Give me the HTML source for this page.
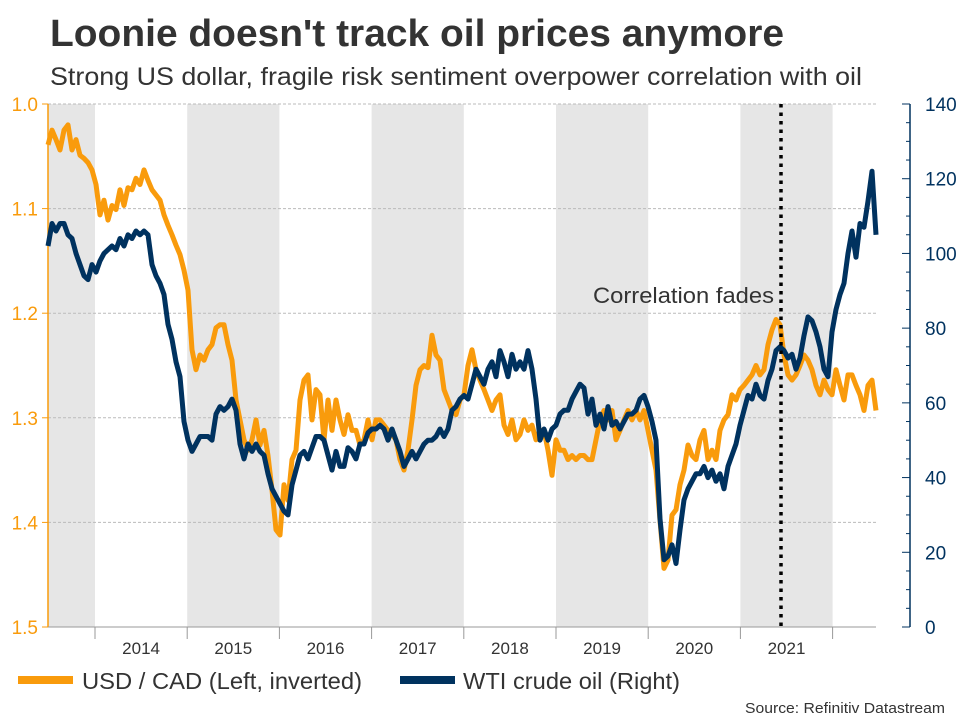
<!DOCTYPE html>
<html><head><meta charset="utf-8">
<style>
body{margin:0;background:#fff;font-family:"Liberation Sans",sans-serif;}
#wrap{position:relative;width:960px;height:720px;overflow:hidden;}
</style></head>
<body>
<div id="wrap">
<svg id="chart" width="960" height="720" xmlns="http://www.w3.org/2000/svg">
<text x="50" y="46" font-size="38" font-weight="bold" fill="#333" textLength="734" lengthAdjust="spacingAndGlyphs" font-family="Liberation Sans, sans-serif">Loonie doesn't track oil prices anymore</text>
<text x="50" y="85" font-size="25" fill="#333" textLength="812" lengthAdjust="spacingAndGlyphs" font-family="Liberation Sans, sans-serif">Strong US dollar, fragile risk sentiment overpower correlation with oil</text>
<g id="bands"></g><g id="grid"></g><g id="axes"></g><g id="series"></g>
<line x1="781" y1="104" x2="781" y2="627" stroke="#000" stroke-width="3.5" stroke-dasharray="3.5,5"/>
<text x="774" y="303" font-size="22" fill="#333" text-anchor="end" textLength="181" lengthAdjust="spacingAndGlyphs" font-family="Liberation Sans, sans-serif">Correlation fades</text>
<rect x="18" y="676" width="55" height="8" fill="#f99b0c"/>
<text x="82" y="689" font-size="23" fill="#333" textLength="280" lengthAdjust="spacingAndGlyphs" font-family="Liberation Sans, sans-serif">USD / CAD (Left, inverted)</text>
<rect x="400" y="676" width="55" height="8" fill="#00325f"/>
<text x="463" y="689" font-size="23" fill="#333" textLength="217" lengthAdjust="spacingAndGlyphs" font-family="Liberation Sans, sans-serif">WTI crude oil (Right)</text>
<text x="945" y="713" font-size="15" fill="#333" text-anchor="end" textLength="200" lengthAdjust="spacingAndGlyphs" font-family="Liberation Sans, sans-serif">Source: Refinitiv Datastream</text>
</svg>
</div>
<script>
const yearLabels=["2014","2015","2016","2017","2018","2019","2020","2021"];
const shadedYears=[2013,2015,2017,2019,2021];
const leftTicks=[1.0,1.1,1.2,1.3,1.4,1.5];
const rightTicks=[0,20,40,60,80,100,120,140];
const startDate=2013.49;
const usdcad=[1.039,1.025,1.034,1.044,1.025,1.020,1.044,1.034,1.049,1.052,1.056,1.063,1.077,1.106,1.092,1.111,1.097,1.101,1.082,1.097,1.080,1.082,1.071,1.077,1.063,1.073,1.082,1.087,1.092,1.106,1.116,1.125,1.135,1.144,1.159,1.178,1.235,1.254,1.240,1.245,1.235,1.230,1.214,1.211,1.211,1.230,1.245,1.283,1.302,1.321,1.331,1.321,1.302,1.326,1.312,1.336,1.369,1.407,1.412,1.364,1.379,1.340,1.331,1.283,1.264,1.259,1.302,1.273,1.278,1.321,1.283,1.312,1.283,1.302,1.316,1.297,1.312,1.312,1.326,1.321,1.302,1.321,1.302,1.302,1.307,1.312,1.316,1.321,1.340,1.350,1.331,1.302,1.269,1.254,1.250,1.252,1.221,1.240,1.245,1.273,1.283,1.293,1.297,1.283,1.278,1.250,1.235,1.254,1.264,1.273,1.283,1.293,1.283,1.278,1.307,1.316,1.302,1.321,1.316,1.302,1.312,1.307,1.321,1.312,1.312,1.331,1.355,1.321,1.331,1.331,1.340,1.336,1.340,1.336,1.336,1.340,1.340,1.321,1.302,1.293,1.302,1.293,1.321,1.312,1.302,1.293,1.302,1.293,1.302,1.293,1.312,1.331,1.350,1.398,1.444,1.436,1.393,1.388,1.364,1.350,1.326,1.336,1.340,1.321,1.312,1.340,1.331,1.340,1.312,1.302,1.297,1.278,1.283,1.273,1.269,1.264,1.259,1.250,1.259,1.254,1.230,1.216,1.206,1.211,1.240,1.259,1.264,1.259,1.250,1.240,1.245,1.254,1.269,1.278,1.264,1.273,1.278,1.254,1.269,1.283,1.259,1.259,1.269,1.278,1.293,1.269,1.264,1.293];
const wti=[102,108,106,108,108,105,104,100,97,94,93,97,95,98,100,101,102,101,104,102,105,104,106,105,106,105,97,94,92,89,81,77,71,67,55,50,47,49,51,51,51,50,57,59,58,59,61,58,49,45,49,47,49,47,46,41,37,35,33,31,30,38,42,46,47,45,48,51,51,50,46,42,47,43,43,48,47,45,49,49,52,53,53,54,53,50,53,50,47,43,45,47,45,47,49,50,50,51,53,51,53,58,59,61,62,61,65,69,67,65,69,71,67,74,71,67,73,69,71,69,74,69,61,50,53,50,53,54,57,58,58,61,63,65,64,57,61,54,57,53,59,54,55,53,55,57,57,58,61,62,59,55,50,29,18,19,22,17,26,34,37,39,41,41,43,40,42,39,41,37,43,46,49,54,58,62,61,65,62,61,66,69,74,75,74,72,73,69,72,78,83,82,79,75,69,67,79,85,89,92,100,106,99,108,107,114,122,105];
const NS="http://www.w3.org/2000/svg";
const X0=95,PXY=92.2,TOP=104,BOT=627,LEFT=48,RIGHT=876,AX=910;
const step=4/PXY;
function xScale(t){return X0+(t-2014)*PXY;}
function yLeft(v){return TOP+(v-1.0)/0.5*(BOT-TOP);}
function yRight(v){return BOT-v/140*(BOT-TOP);}
function mk(tag,attrs,parent){const e=document.createElementNS(NS,tag);for(const k in attrs)e.setAttribute(k,attrs[k]);document.getElementById(parent).appendChild(e);return e;}
shadedYears.forEach(y=>{
  const x1=Math.max(LEFT,xScale(y)),x2=Math.min(RIGHT,xScale(y+1));
  const r=mk('rect',{x:x1,y:TOP,width:x2-x1,height:BOT-TOP,fill:'#e6e6e6'},'bands');
  
  
});
leftTicks.forEach(v=>{
  const y=yLeft(v);
  if(v<1.5){const g=mk('line',{x1:LEFT,x2:RIGHT,y1:y,y2:y,stroke:'#bbb','stroke-width':1,'stroke-dasharray':'3,2'},'grid');
  
  }
  const tk=mk('line',{x1:LEFT-6,x2:LEFT,y1:y,y2:y,stroke:'#f99b0c','stroke-width':1},'axes');
  
  
  const t=mk('text',{x:LEFT-10,y:y+7,'font-size':19,fill:'#f99b0c','text-anchor':'end','font-family':'Liberation Sans, sans-serif'},'axes');
  t.textContent=v.toFixed(1);
  
  
});
const la=mk('line',{x1:LEFT,x2:LEFT,y1:TOP,y2:BOT,stroke:'#f99b0c','stroke-width':1.5},'axes');


const ra=mk('line',{x1:AX,x2:AX,y1:TOP,y2:BOT,stroke:'#00325f','stroke-width':1.5},'axes');


for(let v=0;v<=140;v+=5){
  const y=yRight(v);const major=v%20===0;
  const tk=mk('line',{x1:AX-(major?8:4),x2:AX,y1:y,y2:y,stroke:'#00325f','stroke-width':1},'axes');
  
  
}
rightTicks.forEach(v=>{
  const t=mk('text',{x:AX+15,y:yRight(v)+7,'font-size':19,fill:'#00325f','font-family':'Liberation Sans, sans-serif'},'axes');
  t.textContent=v;
  
  
});
const xa=mk('line',{x1:LEFT,x2:RIGHT,y1:BOT,y2:BOT,stroke:'#999','stroke-width':1},'axes');


for(let y=2014;y<=2022;y++){
  const x=xScale(y);
  const tk=mk('line',{x1:x,x2:x,y1:BOT,y2:BOT+12,stroke:'#999','stroke-width':1},'axes');
  
  
}
yearLabels.forEach(l=>{
  const t=mk('text',{x:xScale(+l+0.5),y:654,'font-size':17,fill:'#333','text-anchor':'middle','font-family':'Liberation Sans, sans-serif'},'axes');
  t.textContent=l;
  
  
});
function path(arr,yf){return arr.map((v,i)=>(i?'L':'M')+xScale(startDate+i*step).toFixed(1)+','+yf(v).toFixed(1)).join(' ');}
const p1=mk('path',{d:path(usdcad,yLeft),fill:'none',stroke:'#f99b0c','stroke-width':5,'stroke-linejoin':'round'},'series');


const p2=mk('path',{d:path(wti,yRight),fill:'none',stroke:'#00325f','stroke-width':5,'stroke-linejoin':'round'},'series');


</script>
</body></html>
